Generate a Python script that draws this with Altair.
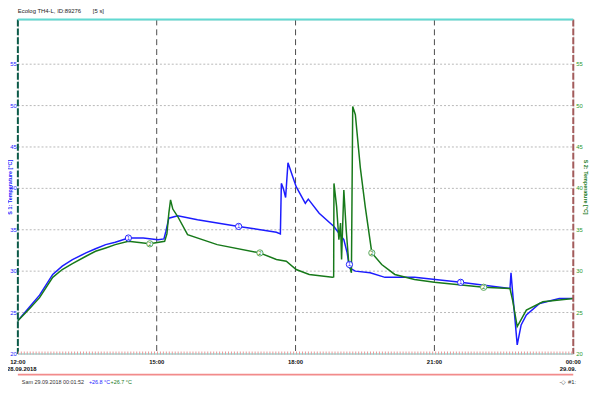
import altair as alt
import pandas as pd

# hours after 12:00 on 28.09.2018
blue_h = [0.0, 0.256, 0.469, 0.753, 0.959, 1.179, 1.471, 1.678, 1.898, 2.104, 2.388, 2.708, 3.028, 3.156,
          3.198, 3.262, 3.454, 3.881, 4.770, 5.586, 5.672, 5.693, 5.736, 5.785, 5.836, 6.013, 6.211, 6.275,
          6.510, 6.829, 7.043, 7.115, 7.164, 7.292, 7.612, 7.932, 8.571, 9.567, 10.633, 10.655, 10.689,
          10.789, 10.874, 10.987, 11.273, 11.699, 12.0]
blue_t = [24.0, 25.7, 27.1, 29.6, 30.6, 31.4, 32.2, 32.7, 33.2, 33.5, 34.0, 34.0, 33.8, 33.9,
          34.8, 36.4, 36.7, 36.2, 35.4, 34.7, 34.5, 40.6, 40.0, 38.9, 43.1, 40.2, 38.2, 38.7,
          37.0, 35.4, 33.8, 32.2, 30.4, 30.0, 29.8, 29.25, 29.25, 28.65, 27.9, 29.8, 27.5,
          21.1, 23.5, 24.7, 26.1, 26.7, 26.7]

green_h = [0.0, 0.256, 0.469, 0.753, 0.959, 1.179, 1.471, 1.678, 1.898, 2.104, 2.388, 2.851, 3.171, 3.220,
           3.262, 3.299, 3.348, 3.454, 3.667, 4.307, 5.230, 5.586, 5.800, 6.013, 6.296, 6.795, 6.823, 6.830,
           6.887, 6.936, 6.972, 6.994, 7.043, 7.094, 7.149, 7.207, 7.235, 7.292, 7.399, 7.505, 7.648, 7.861,
           8.145, 8.571, 8.998, 10.064, 10.633, 10.689, 10.789, 10.987, 11.343, 12.0]
green_t = [24.0, 25.5, 26.8, 29.25, 30.2, 30.9, 31.8, 32.4, 32.8, 33.2, 33.6, 33.3, 33.6, 34.5,
           37.0, 38.6, 37.5, 36.6, 34.4, 33.2, 32.2, 31.4, 31.2, 30.2, 29.6, 29.25, 29.3, 40.6,
           37.8, 33.8, 35.8, 31.4, 39.8, 35.0, 31.0, 29.8, 49.9, 48.9, 42.5, 37.8, 32.2, 30.8,
           29.6, 29.0, 28.65, 28.05, 27.9, 26.5, 23.3, 25.3, 26.3, 26.7]

m1_h = [2.388, 4.770, 7.164, 9.567]
m1_t = [34.0, 35.4, 30.8, 28.65]
m2_h = [2.851, 5.230, 7.648, 10.064]
m2_t = [33.3, 32.2, 32.2, 28.05]

x_ticks = [0, 3, 6, 9, 12]
x_labels = ["12:00", "15:00", "18:00", "21:00", "00:00"]
y_ticks = [20, 25, 30, 35, 40, 45, 50, 55]

BLUE = "#1c1cff"
GREEN = "#17791a"
FONT = "'Liberation Sans Narrow', 'Liberation Sans', sans-serif"
W, H = 563, 339

xs = alt.Scale(domain=[0, 12], nice=False, zero=False)
ys = alt.Scale(domain=[20, 60.4], nice=False, zero=False)

blue_df = pd.DataFrame({"h": blue_h, "t": blue_t})
green_df = pd.DataFrame({"h": green_h, "t": green_t})
m1_df = pd.DataFrame({"h": m1_h, "t": m1_t, "lab": ["1"] * len(m1_h)})
m2_df = pd.DataFrame({"h": m2_h, "t": m2_t, "lab": ["2"] * len(m2_h)})
xt_df = pd.DataFrame({"h": x_ticks, "lab": x_labels})
yt_df = pd.DataFrame({"t": y_ticks, "lab": [str(v) for v in y_ticks]})
hg_df = pd.DataFrame({"t": y_ticks[1:]})
vg_df = pd.DataFrame({"h": x_ticks[1:-1]})
one = pd.DataFrame({"k": [0]})

X = lambda: alt.X("h:Q", scale=xs, axis=None)
Y = lambda: alt.Y("t:Q", scale=ys, axis=None)

hgrid = alt.Chart(hg_df).mark_rule(color="#b8b8b8", strokeDash=[2, 2], strokeWidth=1).encode(
    y=Y(), x=alt.value(0), x2=alt.value(W))
vgrid = alt.Chart(vg_df).mark_rule(color="#4a4a4a", strokeDash=[6, 4], strokeWidth=1).encode(
    x=X(), y=alt.value(0), y2=alt.value(H))

blue_line = alt.Chart(blue_df).mark_line(color=BLUE, strokeWidth=1.5).encode(x=X(), y=Y())
green_line = alt.Chart(green_df).mark_line(color=GREEN, strokeWidth=1.5).encode(x=X(), y=Y())

m1_pt = alt.Chart(m1_df).mark_point(shape="circle", size=40, filled=True, fill="white",
                                    stroke=BLUE, strokeWidth=1, opacity=1).encode(x=X(), y=Y())
m1_tx = alt.Chart(m1_df).mark_text(fontSize=6, color=BLUE, font=FONT).encode(x=X(), y=Y(), text="lab:N")
m2_pt = alt.Chart(m2_df).mark_point(shape="circle", size=40, filled=True, fill="white",
                                    stroke="#5aa85a", strokeWidth=1, opacity=1).encode(x=X(), y=Y())
m2_tx = alt.Chart(m2_df).mark_text(fontSize=6, color=GREEN, font=FONT).encode(x=X(), y=Y(), text="lab:N")

top_b = alt.Chart(one).mark_rule(color="#62d9d2", strokeWidth=2).encode(
    x=alt.value(0), x2=alt.value(W), y=alt.value(0))
left_b = alt.Chart(one).mark_rule(color="#0b5a48", strokeWidth=2, strokeDash=[7, 2]).encode(
    x=alt.value(0), y=alt.value(0), y2=alt.value(H))
right_b = alt.Chart(one).mark_rule(color="#a35b5b", strokeWidth=2, strokeDash=[7, 2]).encode(
    x=alt.value(W), y=alt.value(0), y2=alt.value(H))
bot_b = alt.Chart(one).mark_rule(color="#7fd6d0", strokeWidth=1).encode(
    x=alt.value(0), x2=alt.value(W), y=alt.value(H))
bot_t = alt.Chart(one).mark_rule(color="#e79a9a", strokeWidth=3, strokeDash=[1, 2]).encode(
    x=alt.value(0), x2=alt.value(W), y=alt.value(H - 1))
red_b = alt.Chart(one).mark_rule(color="#f28b8b", strokeWidth=2).encode(
    x=alt.value(0), x2=alt.value(W), y=alt.value(H + 21))

ylab_l = alt.Chart(yt_df).mark_text(align="right", baseline="middle", fontSize=6, color=BLUE,
                                    font=FONT).encode(y=Y(), x=alt.value(-1), text="lab:N")
ylab_r = alt.Chart(yt_df).mark_text(align="left", baseline="middle", fontSize=6, color="#2a9a2a",
                                    font=FONT).encode(y=Y(), x=alt.value(W + 3), text="lab:N")
xlab = alt.Chart(xt_df).mark_text(align="center", baseline="middle", fontSize=6, color="#111",
                                  font=FONT, fontWeight="bold").encode(
    x=X(), y=alt.value(H + 8), text="lab:N")


def txt(s, x, y, color="#222", angle=0, size=6, align="left", weight="normal"):
    return alt.Chart(one).mark_text(text=s, align=align, baseline="middle", angle=angle,
                                    fontSize=size, color=color, font=FONT,
                                    fontWeight=weight).encode(x=alt.value(x), y=alt.value(y))


date_l = txt("28.09.2018", -11, H + 15, "#111", 0, 6, "left", "bold")
date_r = txt("29.09.", W + 3, H + 15, "#111", 0, 6, "right", "bold")
ytitle_l = txt("S 1: Temperature [°C]", -8, 170, BLUE, 270, 5.5, "center", "bold")
ytitle_r = txt("S 2: Temperature [°C]", W + 13, 170, GREEN, 90, 5.5, "center", "bold")
title1 = txt("Ecolog TH4-L,  ID:89276", 0, -9, "#222", 0, 6)
title2 = txt("[5 s]", 76, -9, "#222", 0, 6)
stat1 = txt("Sam 29.09.2018 00:01:52", 4, H + 28, "#333", 0, 5.5)
stat2 = txt("+26.8 °C", 72, H + 28, BLUE, 0, 5.5)
stat3 = txt("+26.7 °C", 94, H + 28, GREEN, 0, 5.5)
stat4 = txt("-◇ #1:", W - 14, H + 28, "#333", 0, 6)

chart = alt.layer(
    hgrid, vgrid, blue_line, green_line, m1_pt, m1_tx, m2_pt, m2_tx,
    left_b, right_b, top_b, bot_b, bot_t, red_b,
    ylab_l, ylab_r, xlab, date_l, date_r, ytitle_l, ytitle_r, title1, title2,
    stat1, stat2, stat3, stat4
).properties(
    width=W, height=H,
    padding={"left": 10, "top": 9, "right": 19, "bottom": 40},
    autosize=alt.AutoSizeParams(type="none"),
).configure_view(stroke=None).configure(background="white")

chart.save("out.html", embed_options={"renderer": "svg", "actions": False})
